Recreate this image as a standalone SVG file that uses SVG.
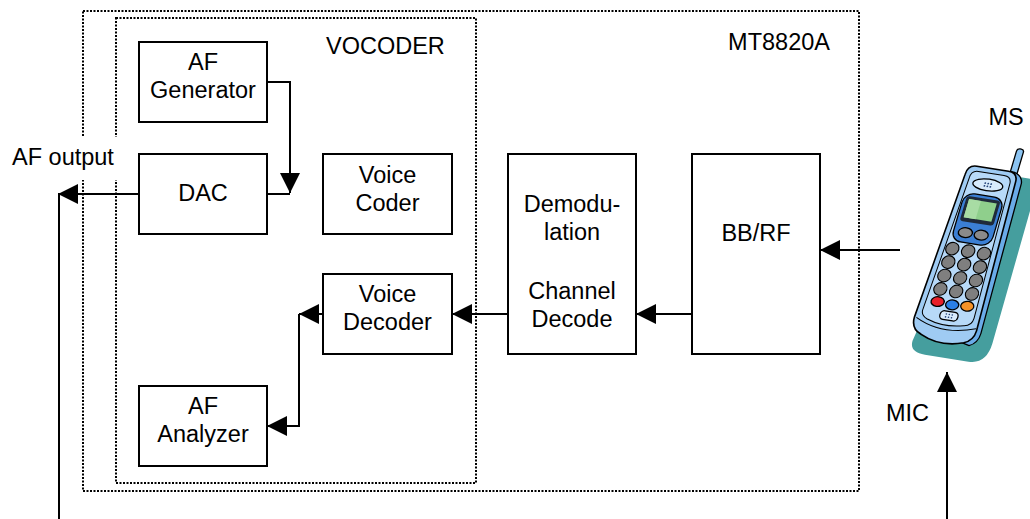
<svg xmlns="http://www.w3.org/2000/svg" width="1030" height="519" viewBox="0 0 1030 519">
  <style>
    .box { fill: #fff; stroke: #000; stroke-width: 2; }
    .frame { fill: none; stroke: #000; stroke-width: 2; stroke-dasharray: 2 1.5; }
    .lbl { font-family: "Liberation Sans", Arial, sans-serif; font-size: 23.5px; fill: #000; }
    .mid { text-anchor: middle; }
    .wire { fill: none; stroke: #000; stroke-width: 2; }
    .key { fill: #7f7f7f; stroke: #000; stroke-width: 1.1; }
    .ol { stroke: #000; stroke-width: 1.3; }
  </style>
  <defs>
    <marker id="arrow" markerUnits="userSpaceOnUse" markerWidth="20" markerHeight="20" refX="20" refY="10" orient="auto">
      <path d="M0,0 L20,10 L0,20 Z" fill="#000"/>
    </marker>
  </defs>

  <rect width="1030" height="519" fill="#fff"/>

  <!-- enclosures -->
  <g id="mt8820a">
    <rect class="frame" x="83" y="11" width="776" height="480"/>
    <text class="lbl" x="830" y="50" text-anchor="end">MT8820A</text>
  </g>
  <g id="vocoder">
    <rect class="frame" x="116" y="18" width="360" height="465"/>
    <text class="lbl" x="326" y="54">VOCODER</text>
  </g>

  <!-- connectors -->
  <g id="connectors">
    <path class="wire" d="M267,82 H290 V193" marker-end="url(#arrow)"/>
    <path class="wire" d="M267,194 H290"/>
    <path class="wire" d="M139,194 H58" marker-end="url(#arrow)"/>
    <path class="wire" d="M59,194 V519"/>
    <path class="wire" d="M323,314 H299" marker-end="url(#arrow)"/>
    <path class="wire" d="M299,314 V426 H267" marker-end="url(#arrow)"/>
    <path class="wire" d="M508,314 H452" marker-end="url(#arrow)"/>
    <path class="wire" d="M692,314 H636" marker-end="url(#arrow)"/>
    <path class="wire" d="M900,250 H820" marker-end="url(#arrow)"/>
    <path class="wire" d="M947,519 V372" marker-end="url(#arrow)"/>
  </g>

  <!-- AF output label, set on a white patch over the frame edges -->
  <g id="af-output">
    <rect x="4" y="137" width="116" height="43" fill="#fff"/>
    <text class="lbl" x="12" y="165">AF output</text>
  </g>

  <!-- blocks -->
  <g id="af-generator">
    <rect class="box" x="139" y="42" width="128" height="80"/>
    <text class="lbl mid" x="203" y="70">AF</text>
    <text class="lbl mid" x="203" y="98">Generator</text>
  </g>
  <g id="dac">
    <rect class="box" x="139" y="154" width="128" height="80"/>
    <text class="lbl mid" x="203" y="201">DAC</text>
  </g>
  <g id="voice-coder">
    <rect class="box" x="323" y="154" width="129" height="80"/>
    <text class="lbl mid" x="387.5" y="183">Voice</text>
    <text class="lbl mid" x="387.5" y="211">Coder</text>
  </g>
  <g id="voice-decoder">
    <rect class="box" x="323" y="274" width="129" height="80"/>
    <text class="lbl mid" x="387.5" y="302">Voice</text>
    <text class="lbl mid" x="387.5" y="330">Decoder</text>
  </g>
  <g id="af-analyzer">
    <rect class="box" x="139" y="386" width="128" height="80"/>
    <text class="lbl mid" x="203" y="414">AF</text>
    <text class="lbl mid" x="203" y="442">Analyzer</text>
  </g>
  <g id="demod-decode">
    <rect class="box" x="508" y="154" width="128" height="200"/>
    <text class="lbl mid" x="572" y="212">Demodu-</text>
    <text class="lbl mid" x="572" y="240">lation</text>
    <text class="lbl mid" x="572" y="299">Channel</text>
    <text class="lbl mid" x="572" y="327">Decode</text>
  </g>
  <g id="bb-rf">
    <rect class="box" x="692" y="154" width="128" height="200"/>
    <text class="lbl mid" x="756" y="241">BB/RF</text>
  </g>

  <!-- mobile station handset, drawn in a tilted local frame -->
  <g id="ms">
    <text class="lbl mid" x="1006" y="125">MS</text>
    <g transform="matrix(0.988,0.156,-0.285,0.959,967,255)">
      <!-- drop shadow -->
      <path d="M-4,-86 L36,-86 Q48,-86 48,-72 L50,84 Q50,106 32,106 L-12,106 Q-28,106 -28,94 Z" fill="#459e9e"/>
      <!-- antenna -->
      <rect x="18" y="-114" width="7" height="28" rx="3" fill="#8cc4f2" class="ol"/>
      <!-- side thickness -->
      <path d="M18,-90 Q30,-90 32,-80 L36,76 Q36,86 28,90 L20,88 Z" fill="#6aabe8" class="ol"/>
      <!-- body -->
      <path d="M-16,-90 L16,-90 Q26,-90 26,-80 L31,74 Q31,84 22,88 Q0,96 -22,86 Q-33,82 -33,70 L-25,-80 Q-25,-90 -16,-90 Z"
            fill="#9fcbf3" stroke="#000" stroke-width="1.6"/>
      <path d="M-31,70 Q-2,84 30,72" fill="none" stroke="#000" stroke-width="1"/>
      <!-- face panel -->
      <path d="M-13,-85 L13,-85 Q21,-85 21,-77 L25,62 Q25,70 17,71 Q-2,76 -20,70 Q-28,67 -27,60 L-20,-77 Q-20,-85 -13,-85 Z"
            fill="#b7d9f8" stroke="#000" stroke-width="1"/>
      <!-- earpiece -->
      <ellipse cx="0" cy="-73" rx="15" ry="6" fill="#d8ebfc" class="ol"/>
      <g fill="#24447a">
        <circle cx="-3" cy="-74.5" r="0.9"/><circle cx="0" cy="-74.5" r="0.9"/><circle cx="3" cy="-74.5" r="0.9"/>
        <circle cx="-3" cy="-71.5" r="0.9"/><circle cx="0" cy="-71.5" r="0.9"/><circle cx="3" cy="-71.5" r="0.9"/>
      </g>
      <!-- display and navigation pad -->
      <rect x="-20" y="-62" width="40" height="50" rx="10" fill="#3b7fd4" class="ol"/>
      <rect x="-17" y="-59" width="34" height="26" rx="3" fill="#1f2a3a"/>
      <rect x="-14" y="-56" width="28" height="19" fill="#8fcf8c"/>
      <rect x="-14" y="-56" width="12" height="19" fill="#a8dca4"/>
      <ellipse cx="-8" cy="-22" rx="7" ry="5" fill="#8a8a8a" class="ol"/>
      <ellipse cx="8" cy="-22" rx="7" ry="5" fill="#8a8a8a" class="ol"/>
      <!-- keypad -->
      <circle class="key" cx="-16" cy="-4" r="6.5"/><circle class="key" cx="0" cy="-4" r="6.5"/><circle class="key" cx="16" cy="-4" r="6.5"/>
      <circle class="key" cx="-16" cy="10" r="6.5"/><circle class="key" cx="0" cy="10" r="6.5"/><circle class="key" cx="16" cy="10" r="6.5"/>
      <circle class="key" cx="-16" cy="24" r="6.5"/><circle class="key" cx="0" cy="24" r="6.5"/><circle class="key" cx="16" cy="24" r="6.5"/>
      <circle class="key" cx="-16" cy="38" r="6.5"/><circle class="key" cx="0" cy="38" r="6.5"/><circle class="key" cx="16" cy="38" r="6.5"/>
      <!-- function keys -->
      <ellipse cx="-15" cy="51" rx="6.5" ry="5" fill="#e8202a" class="ol"/>
      <ellipse cx="0" cy="52" rx="6.5" ry="5" fill="#2a7fe6" class="ol"/>
      <ellipse cx="15" cy="51" rx="6.5" ry="5" fill="#f59228" class="ol"/>
      <!-- microphone grille -->
      <rect x="-9" y="59" width="18" height="9" rx="4" fill="#d8ebfc" class="ol"/>
      <g fill="#24447a">
        <circle cx="-3" cy="62" r="0.8"/><circle cx="0" cy="62" r="0.8"/><circle cx="3" cy="62" r="0.8"/>
        <circle cx="-3" cy="65" r="0.8"/><circle cx="0" cy="65" r="0.8"/><circle cx="3" cy="65" r="0.8"/>
      </g>
    </g>
  </g>

  <g id="mic">
    <text class="lbl" x="886" y="421">MIC</text>
  </g>
</svg>
